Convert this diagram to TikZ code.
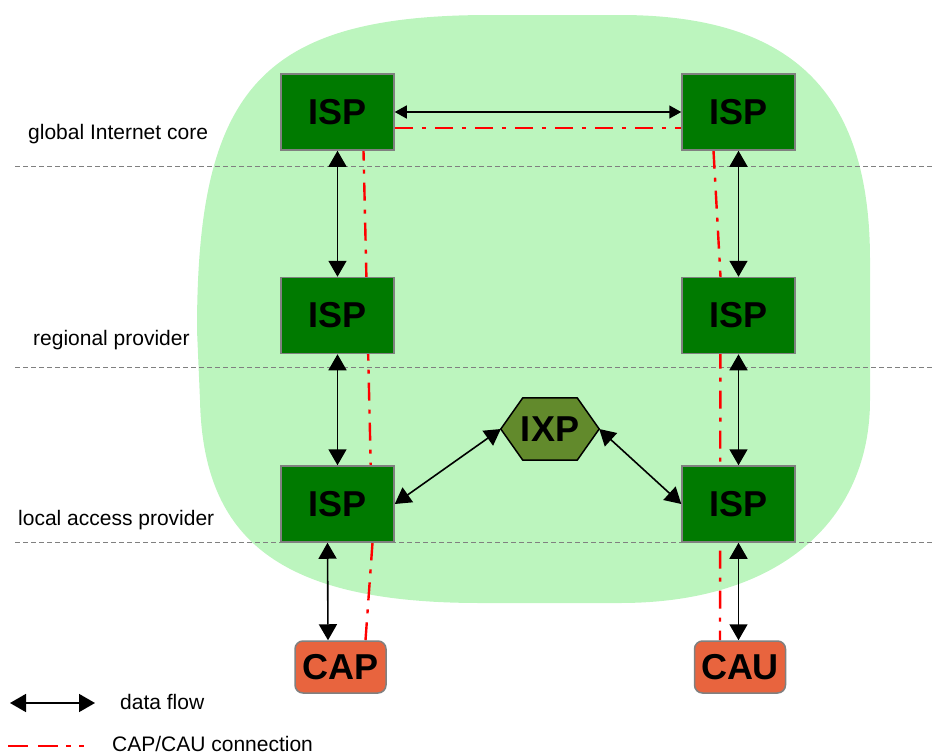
\documentclass[tikz,border=0pt]{standalone}
\usepackage{fontspec}
\setmainfont{Liberation Sans}
\usetikzlibrary{arrows.meta,calc}
\definecolor{blobgreen}{RGB}{188,245,190}
\definecolor{ispgreen}{RGB}{0,122,0}
\definecolor{ixpgreen}{RGB}{98,138,44}
\definecolor{capred}{RGB}{232,100,62}
\definecolor{bordergrey}{RGB}{128,128,128}
\pgfdeclarelayer{bg}
\pgfsetlayers{bg,main}
\begin{document}
\begin{tikzpicture}[x=1pt,y=-1pt,
  isp/.style={draw=bordergrey, line width=1.5pt, fill=ispgreen, minimum width=113pt, minimum height=76pt, inner sep=0pt, font=\fontsize{36}{36}\selectfont\bfseries},
  endbox/.style={draw=bordergrey, line width=1.5pt, fill=capred, rounded corners=8pt, minimum width=91pt, minimum height=52pt, inner sep=0pt, font=\fontsize{36}{36}\selectfont\bfseries},
  flow/.style={line width=1.6pt, {Triangle[length=16pt,width=18pt]}-{Triangle[length=16pt,width=18pt]}},
  flowsmall/.style={line width=1.5pt, {Triangle[length=12pt,width=13pt]}-{Triangle[length=12pt,width=13pt]}},
  levelline/.style={bordergrey, dash pattern=on 5pt off 3pt, line width=1pt},
  capline/.style={red, line width=2.4pt, dash pattern=on 18pt off 9pt on 4pt off 9pt},
  lbl/.style={anchor=base west, inner sep=0pt, font=\fontsize{21}{21}\selectfont}
]
\useasboundingbox (0,0) rectangle (935,755);

% nodes
\node[isp] (tl) at (337.5,112) {ISP};
\node[isp] (tr) at (738.5,112) {ISP};
\node[isp] (ml) at (337.5,315.5) {ISP};
\node[isp] (mr) at (738.5,315.5) {ISP};
\node[isp] (ll) at (337.5,504) {ISP};
\node[isp] (lr) at (738.5,504) {ISP};
\node[endbox] (cap) at (340.5,667) {CAP};
\node[endbox] (cau) at (740,667) {CAU};

% IXP hexagon
\node[minimum width=98pt, minimum height=62pt, inner sep=0pt] (ixp) at (550,429) {};
\draw[fill=ixpgreen, line width=1.5pt, line join=miter]
  (ixp.west) -- ($(ixp.north west)+(22,0)$) -- ($(ixp.north east)+(-22,0)$) --
  (ixp.east) -- ($(ixp.south east)+(-22,0)$) -- ($(ixp.south west)+(22,0)$) -- cycle;
\node[font=\fontsize{36}{36}\selectfont\bfseries, inner sep=0pt] at (ixp.center) {IXP};

\begin{pgfonlayer}{bg}
  \fill[blobgreen] (197,330) .. controls (197,90) and (260,15) .. (490,15)
    -- (620,15) .. controls (800,15) and (870,100) .. (870,260)
    -- (870,400) .. controls (870,520) and (780,603) .. (620,603)
    -- (480,603) .. controls (280,603) and (203,540) .. (200,400) -- cycle;
  \coordinate (g1) at (15,166); \coordinate (g2) at (935,166);
  \coordinate (r1) at (15,367); \coordinate (r2) at (935,367);
  \coordinate (a1) at (15,542); \coordinate (a2) at (935,542);
  \draw[levelline] (g1) -- (g2);
  \draw[levelline] (r1) -- (r2);
  \draw[levelline] (a1) -- (a2);
  % CAP/CAU connection
  \draw[capline] ($(cap.north)+(25,0)$) -- ($(ll.south)+(35,0)$) -- ($(tl.south)+(26,0)$);
  \draw[capline] ($(tl.east)+(0,16)$) -- ($(tr.west)+(0,16)$);
  \draw[capline] ($(tr.south)+(-25,0)$) -- ($(mr.north)+(-18,0)$) -- ($(cau.north)+(-20,0)$);
\end{pgfonlayer}

% data flow arrows
\draw[flowsmall] (tl.east) -- (tr.west);
\draw[flow] (tl.south) -- (ml.north);
\draw[flow] (ml.south) -- (ll.north);
\draw[flow] ($(ll.south)+(-10,0)$) -- ($(cap.north)+(-12.5,0)$);
\draw[flow] (tr.south) -- (mr.north);
\draw[flow] (mr.south) -- (lr.north);
\draw[flow] (lr.south) -- (cau.north -| lr.south);
\draw[flow] (ll.east) -- (ixp.west);
\draw[flow] (ixp.east) -- (lr.west);

% level labels
\node[lbl] (lg) at (28,139) {global Internet core};
\node[lbl] (lrp) at (33,345) {regional provider};
\node[lbl] (llp) at (18,525) {local access provider};

% legend
\coordinate (la) at (10,703); \coordinate (lb) at (95,703);
\draw[flow] (la) -- (lb);
\node[lbl] (ldf) at (120,709) {data flow};
\coordinate (ra) at (8,746); \coordinate (rb) at (85,746);
\draw[red, line width=2pt, dash pattern=on 20pt off 10pt on 20pt off 8pt on 5pt off 8pt on 5pt off 10pt] (ra) -- (rb);
\node[lbl] (lcc) at (112,751) {CAP/CAU connection};
\end{tikzpicture}
\end{document}
